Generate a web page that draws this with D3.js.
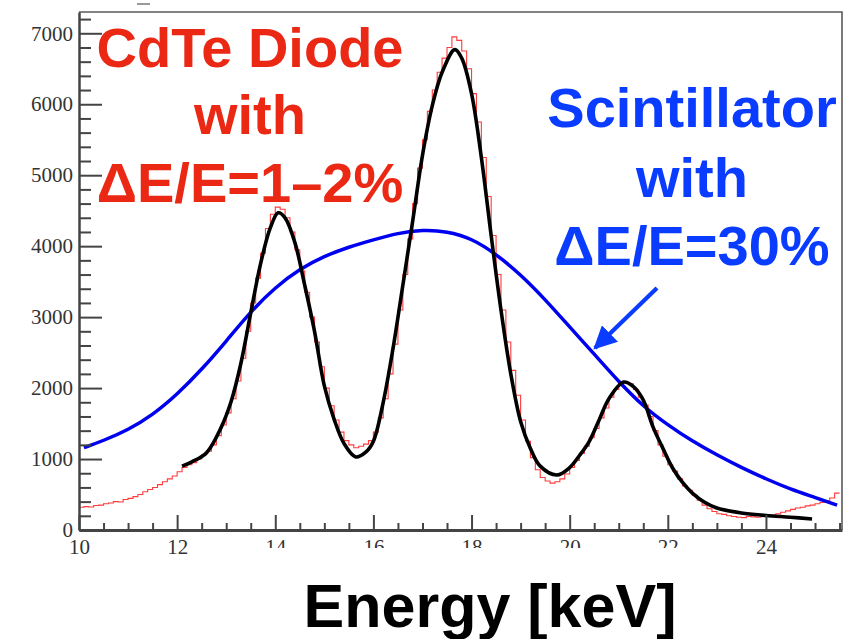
<!DOCTYPE html>
<html>
<head>
<meta charset="utf-8">
<script src="https://cdn.jsdelivr.net/npm/d3@7"></script>
<style>
  body { margin: 0; background: #fff; }
  svg { display: block; }
</style>
</head>
<body>
<div id="chart"></div>
<script>
const width = 864
const height = 639

// scintillator response (keV, counts)
const blueE = [10.1, 10.5, 11.0, 11.5, 12.0, 12.5, 13.0, 13.5, 14.0, 14.5, 15.0, 15.5, 16.0, 16.5, 17.0, 17.5, 18.0, 18.5, 19.0, 19.5, 20.0, 20.5, 21.0, 21.5, 22.0, 22.5, 23.0, 23.5, 24.0, 24.5, 25.0, 25.45]
const blueCounts = [1160, 1260, 1410, 1620, 1910, 2260, 2660, 3080, 3420, 3680, 3860, 3990, 4090, 4185, 4230, 4210, 4110, 3890, 3600, 3250, 2860, 2480, 2090, 1740, 1480, 1250, 1057, 880, 720, 575, 460, 350]

// CdTe fit curve
const blackE = [12.1, 12.3, 12.6, 12.9, 13.1, 13.3, 13.5, 13.7, 13.9, 14.06, 14.2, 14.4, 14.6, 14.8, 15.0, 15.2, 15.4, 15.64, 15.85, 16.0, 16.2, 16.4, 16.6, 16.8, 17.0, 17.2, 17.4, 17.66, 17.8, 18.0, 18.2, 18.4, 18.6, 18.8, 19.0, 19.2, 19.4, 19.74, 20.0, 20.2, 20.4, 20.6, 20.8, 21.1, 21.3, 21.5, 21.7, 21.9, 22.1, 22.3, 22.5, 22.75, 23.0, 23.5, 24.0, 24.5, 24.94]
const blackCounts = [900, 960, 1090, 1450, 1810, 2350, 3060, 3750, 4260, 4470, 4400, 4050, 3450, 2800, 2030, 1560, 1220, 1030, 1100, 1250, 1800, 2560, 3450, 4350, 5280, 5980, 6450, 6770, 6650, 6150, 5250, 4150, 3100, 2200, 1530, 1150, 900, 775, 880, 1050, 1250, 1550, 1850, 2085, 2020, 1830, 1450, 1150, 870, 670, 520, 390, 310, 240, 205, 180, 155]

// CdTe measured histogram, 0.1 keV bins starting at 10.0
const histStart = 10.0
const histBin = 0.1
const histCounts = [
  320, 330, 325, 345, 350, 370, 380, 400, 395, 430,
  445, 470, 500, 540, 570, 600, 640, 680, 720, 760,
  820, 880, 920, 950, 1000, 1060, 1110, 1200, 1330, 1480,
  1650, 1850, 2100, 2420, 2800, 3200, 3550, 3900, 4250, 4450,
  4550, 4520, 4400, 4200, 3950, 3650, 3350, 3000, 2650, 2300,
  2000, 1750, 1550, 1380, 1260, 1200, 1160, 1180, 1210, 1260,
  1380, 1580, 1850, 2200, 2620, 3100, 3600, 4100, 4600, 5100,
  5500, 5900, 6200, 6450, 6650, 6800, 6950, 6900, 6750, 6500,
  6150, 5750, 5250, 4700, 4150, 3600, 3100, 2650, 2250, 1900,
  1550, 1250, 1020, 850, 740, 690, 660, 680, 720, 790,
  880, 980, 1080, 1180, 1300, 1430, 1580, 1720, 1870, 1980,
  2060, 2080, 2060, 1980, 1870, 1760, 1600, 1400, 1200, 1040,
  920, 830, 720, 620, 560, 490, 420, 350, 300, 260,
  230, 220, 200, 190, 180, 175, 190, 185, 180, 190,
  200, 210, 230, 250, 270, 290, 310, 320, 340, 350,
  370, 390, 410, 450, 520
]

const yTicks = [0, 1000, 2000, 3000, 4000, 5000, 6000, 7000]
const xTicks = [10, 12, 14, 16, 18, 20, 22, 24]

const redLabel = ["CdTe Diode", "with", "ΔE/E=1–2%"]
const blueLabel = ["Scintillator", "with", "ΔE/E=30%"]
const xTitle = "Energy [keV]"

const plotLeft = 79, plotRight = 842, plotTop = 12, plotBottom = 530

var svg = d3.select("#chart")
    .append("svg")
    .attr("width", width)
    .attr("height", height)

var x = d3.scaleLinear()
    .domain([10, 25.55])
    .range([plotLeft, plotRight])

var y = d3.scaleLinear()
    .domain([0, 7300])
    .range([plotBottom, plotTop])

// frame (top + right)
svg.append("path")
    .attr("d", "M" + plotLeft + "," + plotTop + "H" + plotRight + "V" + plotBottom)
    .attr("fill", "none")
    .attr("stroke", "#5a5a5a")
    .attr("stroke-width", 1.6)

// little mark above the frame
svg.append("line")
    .attr("x1", 137).attr("x2", 150)
    .attr("y1", 4).attr("y2", 4)
    .attr("stroke", "#777")
    .attr("stroke-width", 1.5)

// histogram
var histPts = histCounts.map((c, i) => [histStart + i*histBin, c])
histPts.push([histStart + histCounts.length*histBin, histCounts[histCounts.length-1]])

svg.append("path")
    .datum(histPts)
    .attr("fill", "none")
    .attr("stroke", "#ff3b3b")
    .attr("stroke-width", 1.1)
    .attr("d", d3.line()
        .x(d => x(d[0]))
        .y(d => y(d[1]))
        .curve(d3.curveStepAfter))

// scintillator curve
svg.append("path")
    .datum(blueE.map((e, i) => [e, blueCounts[i]]))
    .attr("fill", "none")
    .attr("stroke", "#0000f0")
    .attr("stroke-width", 3.5)
    .attr("d", d3.line()
        .x(d => x(d[0]))
        .y(d => y(d[1]))
        .curve(d3.curveBasis))

// fit curve
svg.append("path")
    .datum(blackE.map((e, i) => [e, blackCounts[i]]))
    .attr("fill", "none")
    .attr("stroke", "#000")
    .attr("stroke-width", 3.6)
    .attr("stroke-linejoin", "round")
    .attr("d", d3.line()
        .x(d => x(d[0]))
        .y(d => y(d[1]))
        .curve(d3.curveCatmullRom))

// y axis
var yMinor = d3.range(0, 7300, 200).filter(v => v % 1000 != 0)
svg.append("g")
    .attr("transform", "translate(" + plotLeft + ",0)")
    .call(d3.axisLeft(y).tickValues(yMinor).tickSize(-12).tickFormat("").tickSizeOuter(0))
    .call(g => g.select(".domain").remove())
    .selectAll("line").attr("stroke", "#444").attr("stroke-width", 2)

var yAxis = svg.append("g")
    .attr("class", "yAxis")
    .attr("transform", "translate(" + plotLeft + ",0)")
    .call(d3.axisLeft(y).tickValues(yTicks).tickFormat(d3.format("d")).tickSize(-23).tickSizeOuter(0).tickPadding(6))
yAxis.select(".domain").attr("stroke", "#444").attr("stroke-width", 2.5)
yAxis.selectAll("line").attr("stroke", "#444").attr("stroke-width", 2)
yAxis.selectAll("text")
    .style("font-family", "'Liberation Serif', 'DejaVu Serif', serif")
    .style("font-size", "21px")
    .attr("fill", "#333")

// x axis
var xMinor = d3.range(10, 25.6, 0.5).filter(v => v % 2 != 0)
svg.append("g")
    .attr("transform", "translate(0," + plotBottom + ")")
    .call(d3.axisBottom(x).tickValues(xMinor).tickSize(-7).tickFormat("").tickSizeOuter(0))
    .call(g => g.select(".domain").remove())
    .selectAll("line").attr("stroke", "#444").attr("stroke-width", 2)

var xAxis = svg.append("g")
    .attr("class", "xAxis")
    .attr("transform", "translate(0," + plotBottom + ")")
    .call(d3.axisBottom(x).tickValues(xTicks).tickSize(-15).tickSizeOuter(0).tickPadding(9))
xAxis.select(".domain").attr("stroke", "#444").attr("stroke-width", 3)
xAxis.selectAll("line").attr("stroke", "#444").attr("stroke-width", 2)
xAxis.selectAll("text")
    .style("font-family", "'Liberation Serif', 'DejaVu Serif', serif")
    .style("font-size", "21px")
    .attr("fill", "#333")

// the middle tick labels are cut off in the original
svg.append("rect")
    .attr("x", 230).attr("y", 548)
    .attr("width", 480).attr("height", 40)
    .attr("fill", "#fff")

// axis title
svg.append("text")
    .attr("x", 490)
    .attr("y", 627)
    .attr("text-anchor", "middle")
    .style("font-family", "'Liberation Sans', Arial, sans-serif")
    .style("font-weight", "bold")
    .style("font-size", "61px")
    .attr("fill", "#000")
    .text(xTitle)

// annotations
var redY = [67, 134, 202]
svg.selectAll("text.redLabel")
    .data(redLabel)
    .enter()
    .append("text")
    .attr("class", "redLabel")
    .attr("x", 250)
    .attr("y", (d, i) => redY[i])
    .attr("text-anchor", "middle")
    .style("font-family", "'Liberation Sans', Arial, sans-serif")
    .style("font-weight", "bold")
    .style("font-size", "56px")
    .attr("fill", "#ea2814")
    .text(d => d)

var blueY = [127, 197, 265]
svg.selectAll("text.blueLabel")
    .data(blueLabel)
    .enter()
    .append("text")
    .attr("class", "blueLabel")
    .attr("x", 692)
    .attr("y", (d, i) => blueY[i])
    .attr("text-anchor", "middle")
    .style("font-family", "'Liberation Sans', Arial, sans-serif")
    .style("font-weight", "bold")
    .style("font-size", "56px")
    .attr("fill", "#0a3cff")
    .text(d => d)

// arrow pointing at the scintillator curve
svg.append("defs")
    .append("marker")
    .attr("id", "arrowhead")
    .attr("viewBox", "0 0 10 10")
    .attr("refX", 9)
    .attr("refY", 5)
    .attr("markerWidth", 5.5)
    .attr("markerHeight", 5.5)
    .attr("markerUnits", "strokeWidth")
    .attr("orient", "auto")
    .append("path")
    .attr("d", "M0,0L10,5L0,10z")
    .attr("fill", "#0a3cff")

svg.append("line")
    .attr("x1", 657).attr("y1", 288)
    .attr("x2", 595).attr("y2", 348)
    .attr("stroke", "#0a3cff")
    .attr("stroke-width", 4.2)
    .attr("marker-end", "url(#arrowhead)")
</script>
</body>
</html>
